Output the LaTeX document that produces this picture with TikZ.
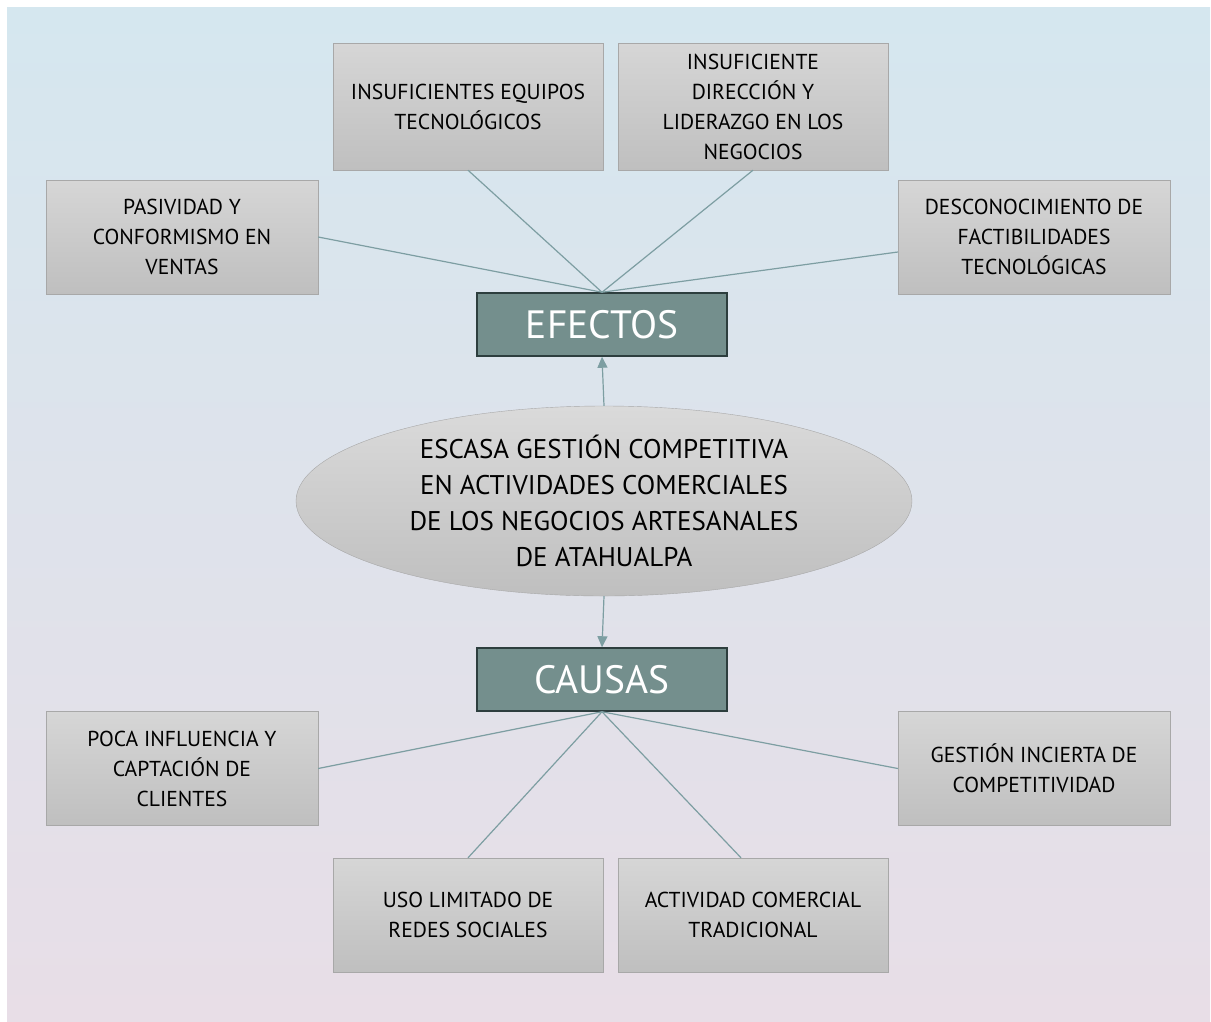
\documentclass[tikz,border=0pt]{standalone}
\usepackage{fontspec}
\setmainfont{PT Sans}
\usetikzlibrary{shapes.geometric, arrows.meta}

\definecolor{bgtop}{RGB}{213,231,239}
\definecolor{bgmid}{RGB}{222,227,236}
\definecolor{bgbot}{RGB}{232,222,231}
\definecolor{boxtop}{RGB}{214,214,214}
\definecolor{boxbot}{RGB}{191,191,191}
\definecolor{boxline}{RGB}{168,168,168}
\definecolor{headfill}{RGB}{116,143,141}
\definecolor{headline}{RGB}{45,62,62}
\definecolor{linkcol}{RGB}{125,158,162}

\begin{document}
\begin{tikzpicture}[x=1pt, y=-1pt,
        box/.style={draw=boxline, top color=boxtop, bottom color=boxbot, align=center,
            font=\fontsize{21.6}{30}\selectfont, minimum width=270pt, minimum height=114pt, inner sep=0pt},
        head/.style={draw=headline, line width=1.5pt, fill=headfill, text=white,
            font=\fontsize{39.5}{40}\selectfont, minimum width=250pt, minimum height=63pt},
        link/.style={draw=linkcol, line width=1.2pt},
        tip/.style={-{Triangle[length=11pt, width=10pt]}}
    ]
        \useasboundingbox (0,0) rectangle (1211,1021);
        \path[top color=bgtop, middle color=bgmid, bottom color=bgbot] (7,7) rectangle (1210,1021);

        % centre
        \node[ellipse, draw=boxline, top color=boxtop!90, bottom color=boxbot, minimum width=616pt, minimum height=190pt] (prob) at (604,501) {};
        \node[align=center, font=\fontsize{27}{36}\selectfont] (probtxt) at (prob.center)
            {ESCASA GESTIÓN COMPETITIVA\\EN ACTIVIDADES COMERCIALES\\DE LOS NEGOCIOS ARTESANALES\\DE ATAHUALPA};
        \node[head] (efe) at (602,324.5) {EFECTOS};
        \node[head] (cau) at (602,679.5) {CAUSAS};

        % efectos
        \node[box, minimum height=127pt] (eqp) at (468,106.5) {INSUFICIENTES EQUIPOS\\TECNOLÓGICOS};
        \node[box, minimum height=127pt] (dir) at (753,106.5) {INSUFICIENTE\\DIRECCIÓN Y\\LIDERAZGO EN LOS\\NEGOCIOS};
        \node[box, minimum width=272pt] (pas) at (182,237) {PASIVIDAD Y\\CONFORMISMO EN\\VENTAS};
        \node[box, minimum width=272pt] (des) at (1034,237) {DESCONOCIMIENTO DE\\FACTIBILIDADES\\TECNOLÓGICAS};

        % causas
        \node[box, minimum width=272pt] (poca) at (182,768.5) {POCA INFLUENCIA Y\\CAPTACIÓN DE\\CLIENTES};
        \node[box, minimum width=272pt] (gest) at (1034,768.5) {GESTIÓN INCIERTA DE\\COMPETITIVIDAD};
        \node[box] (uso) at (468,915) {USO LIMITADO DE\\REDES SOCIALES};
        \node[box] (act) at (753,915) {ACTIVIDAD COMERCIAL\\TRADICIONAL};

        \draw[link] (efe.north) -- (pas.east);
        \draw[link] (efe.north) -- (eqp.south);
        \draw[link] (efe.north) -- (dir.south);
        \draw[link] (efe.north) -- ([yshift=-15pt]des.west);
        \draw[link] (cau.south) -- (poca.east);
        \draw[link] (cau.south) -- (gest.west);
        \draw[link] (cau.south) -- (uso.north);
        \draw[link] (cau.south) -- ([xshift=-12pt]act.north);

        \draw[link, tip] (prob.north) -- (efe.south);
        \draw[link, tip] (prob.south) -- (cau.north);
\end{tikzpicture}
\end{document}
